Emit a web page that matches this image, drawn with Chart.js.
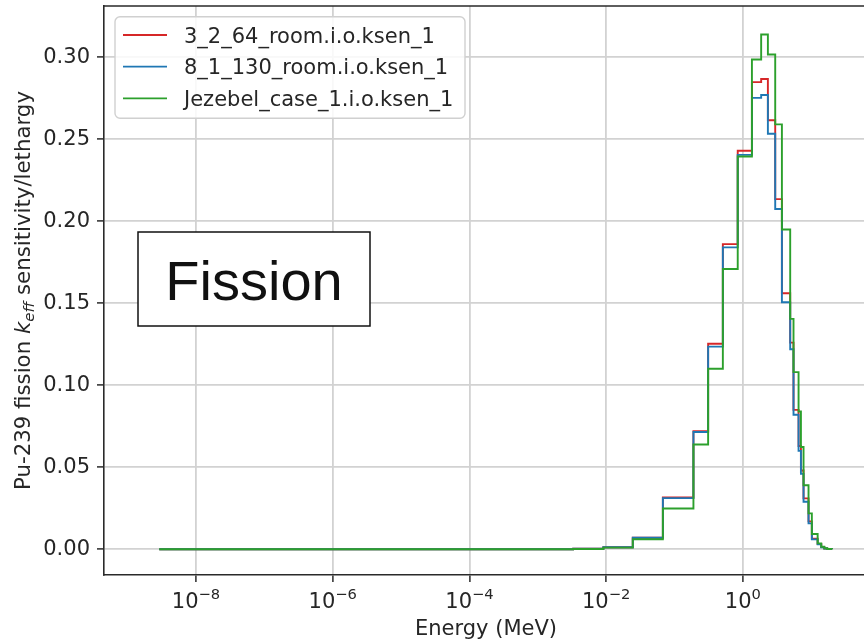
<!DOCTYPE html>
<html>
<head>
<meta charset="utf-8">
<script src="https://cdn.jsdelivr.net/npm/chart.js@4"></script>
<style>
html, body { margin: 0; padding: 0; overflow: hidden; background: #fff; }
</style>
</head>
<body>
<canvas id="sensChart" width="880" height="642" style="display:block"></canvas>
<script>
// group edges (MeV) and sensitivity per lethargy, value holds until next edge
var energyEdges = [2.9e-9, 3.29e-3, 9.1e-3, 0.0245, 0.0675, 0.189, 0.31, 0.509, 0.84, 1.355,
    1.85, 2.32, 2.97, 3.72, 4.92, 5.5, 6.52, 7.06, 7.71, 9.12, 10.2, 12.4, 14.0, 15.5, 17.1, 20.0];
var case3264 = [0, 0.0003, 0.0012, 0.0070, 0.0316, 0.0720, 0.1253, 0.1861, 0.2430, 0.2849,
    0.2868, 0.2616, 0.2135, 0.1561, 0.126, 0.085, 0.063, 0.048, 0.031, 0.017, 0.0065, 0.0032, 0.0013, 0.0005, 0.0002, 0];
var case81130 = [0, 0.0003, 0.0012, 0.0070, 0.0312, 0.0715, 0.1236, 0.1841, 0.2405, 0.2753,
    0.2770, 0.2534, 0.2075, 0.1506, 0.122, 0.082, 0.060, 0.046, 0.029, 0.0158, 0.0060, 0.0030, 0.0012, 0.0005, 0.0002, 0];
var jezebel = [0, 0.0002, 0.0010, 0.0061, 0.0249, 0.0639, 0.1101, 0.1709, 0.2395, 0.2987,
    0.3139, 0.3017, 0.2591, 0.1950, 0.1405, 0.108, 0.084, 0.0624, 0.039, 0.0219, 0.0093, 0.0036, 0.0015, 0.0006, 0.0002, 0];

var seriesNames = ['3_2_64_room.i.o.ksen_1', '8_1_130_room.i.o.ksen_1', 'Jezebel_case_1.i.o.ksen_1'];
var seriesColors = ['#d62728', '#1f77b4', '#2ca02c'];
var xTicks = [1e-8, 1e-6, 1e-4, 1e-2, 1];
var xTickExps = ['\u22128', '\u22126', '\u22124', '\u22122', '0'];
var yTicks = [0, 0.05, 0.10, 0.15, 0.20, 0.25, 0.30];

var FS = 21;
var FONT = 'DejaVu Sans';
var textColor = '#262626';
var spineColor = '#2a2a2a';
var gridColor = '#d2d2d2';

function toPoints(vals) {
    return energyEdges.map(function(e, i) { return {x: e, y: vals[i]}; });
}

var overlays = {
    id: 'overlays',
    afterDraw: function(chart) {
        var ctx = chart.ctx, a = chart.chartArea;
        ctx.save();
        // top and right spines
        ctx.strokeStyle = spineColor;
        ctx.lineWidth = 1.6;
        ctx.beginPath();
        ctx.moveTo(a.left - 0.8, a.top);
        ctx.lineTo(a.right, a.top);
        ctx.lineTo(a.right, a.bottom);
        ctx.stroke();

        // x tick labels as 10^n
        var xs = chart.scales.x;
        var baseFont = FS + 'px "' + FONT + '"';
        var supFont = (FS * 0.7) + 'px "' + FONT + '"';
        ctx.fillStyle = textColor;
        ctx.textAlign = 'left';
        ctx.textBaseline = 'alphabetic';
        xTicks.forEach(function(v, i) {
            var cx = xs.getPixelForValue(v);
            ctx.font = baseFont;
            var w1 = ctx.measureText('10').width;
            ctx.font = supFont;
            var w2 = ctx.measureText(xTickExps[i]).width;
            var x0 = cx - (w1 + w2) / 2;
            ctx.font = baseFont;
            ctx.fillText('10', x0, a.bottom + 33);
            ctx.font = supFont;
            ctx.fillText(xTickExps[i], x0 + w1, a.bottom + 24);
        });

        // legend
        var lx = a.left + 11, ly = a.top + 10.7, lw = 350, lh = 101.6;
        ctx.beginPath();
        ctx.roundRect(lx, ly, lw, lh, 5);
        ctx.fillStyle = 'rgba(255,255,255,0.85)';
        ctx.fill();
        ctx.strokeStyle = '#d0d0d0';
        ctx.lineWidth = 1.4;
        ctx.stroke();
        ctx.font = baseFont;
        ctx.textAlign = 'left';
        for (var i = 0; i < seriesNames.length; i++) {
            var yy = ly + 18.3 + i * 31.7;
            ctx.strokeStyle = seriesColors[i];
            ctx.lineWidth = 1.8;
            ctx.beginPath();
            ctx.moveTo(lx + 8, yy);
            ctx.lineTo(lx + 52, yy);
            ctx.stroke();
            ctx.fillStyle = textColor;
            ctx.fillText(seriesNames[i], lx + 69, yy + 7.6);
        }

        // annotation box
        ctx.fillStyle = '#fff';
        ctx.fillRect(138, 232, 232, 94);
        ctx.strokeStyle = '#111';
        ctx.lineWidth = 1.5;
        ctx.strokeRect(138, 232, 232, 94);
        ctx.fillStyle = '#111';
        ctx.font = '56px "Liberation Sans"';
        ctx.textAlign = 'center';
        ctx.fillText('Fission', 254, 300);

        // y axis title with k_eff
        var tf = 21.3;
        var parts = [
            {t: 'Pu-239 fission ', f: tf + 'px "' + FONT + '"', dy: 0},
            {t: 'k', f: 'italic ' + tf + 'px "' + FONT + '"', dy: 0},
            {t: 'eff', f: 'italic ' + (tf * 0.7) + 'px "' + FONT + '"', dy: 4},
            {t: ' sensitivity/lethargy', f: tf + 'px "' + FONT + '"', dy: 0}
        ];
        var total = 0;
        parts.forEach(function(p) { ctx.font = p.f; p.w = ctx.measureText(p.t).width; total += p.w; });
        ctx.translate(29.5, (a.top + a.bottom) / 2);
        ctx.rotate(-Math.PI / 2);
        ctx.textAlign = 'left';
        ctx.fillStyle = textColor;
        var px = -total / 2;
        parts.forEach(function(p) {
            ctx.font = p.f;
            ctx.fillText(p.t, px, p.dy);
            px += p.w;
        });
        ctx.restore();
    }
};

var ctx = document.getElementById('sensChart').getContext('2d');
var sensChart = new Chart(ctx, {
    type: 'line',
    data: {
        datasets: [
            {label: seriesNames[0], data: toPoints(case3264), borderColor: seriesColors[0], order: 3},
            {label: seriesNames[1], data: toPoints(case81130), borderColor: seriesColors[1], order: 2},
            {label: seriesNames[2], data: toPoints(jezebel), borderColor: seriesColors[2], order: 1}
        ]
    },
    options: {
        responsive: false,
        animation: false,
        layout: {padding: {left: 0, right: 12, top: 6, bottom: 0}},
        elements: {
            line: {borderWidth: 1.9, stepped: 'before', fill: false},
            point: {radius: 0, hoverRadius: 0}
        },
        plugins: {legend: {display: false}, tooltip: {enabled: false}},
        scales: {
            x: {
                type: 'logarithmic',
                min: Math.pow(10, -9.346),
                max: Math.pow(10, 1.83),
                afterBuildTicks: function(s) { s.ticks = xTicks.map(function(v) { return {value: v}; }); },
                afterFit: function(s) {
                    s.height = 67;
                    s.paddingLeft = 0; s.paddingRight = 0;
                },
                grid: {color: gridColor, lineWidth: 1.8, tickColor: spineColor, tickLength: 7, tickWidth: 1.5},
                border: {color: spineColor, width: 1.6},
                ticks: {
                    autoSkip: false, maxRotation: 0, padding: 7, color: textColor,
                    font: {family: FONT, size: FS},
                    callback: function() { return ''; }
                },
                title: {
                    display: true, text: 'Energy (MeV)', color: textColor,
                    font: {family: FONT, size: FS, lineHeight: 1.2},
                    padding: {top: 0, bottom: 0}
                }
            },
            y: {
                type: 'linear',
                min: -0.0157,
                max: 0.3313,
                afterBuildTicks: function(s) { s.ticks = yTicks.map(function(v) { return {value: v}; }); },
                afterFit: function(s) {
                    s.width = 104;
                    s.paddingTop = 0; s.paddingBottom = 0;
                },
                grid: {color: gridColor, lineWidth: 1.8, tickColor: spineColor, tickLength: 7, tickWidth: 1.5},
                border: {color: spineColor, width: 1.6},
                ticks: {
                    padding: 7, color: textColor,
                    font: {family: FONT, size: FS},
                    callback: function(v) { return v.toFixed(2); }
                }
            }
        }
    },
    plugins: [overlays]
});
</script>
</body>
</html>
